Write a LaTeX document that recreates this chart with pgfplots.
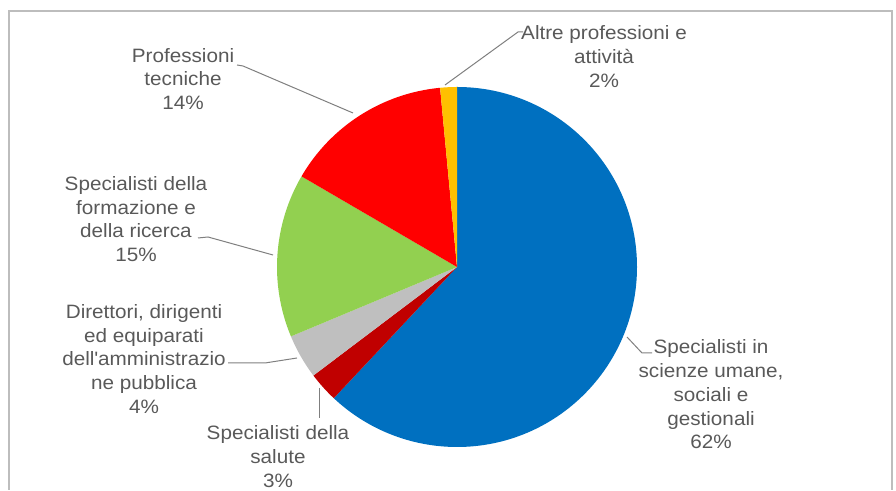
\documentclass[border=0pt]{standalone}
\usepackage{pgfplots}
\pgfplotsset{compat=1.18}
\usepackage{pgfplotstable}
\usepackage{fontspec}
\setmainfont{Liberation Sans}[FakeStretch=1.07]
\definecolor{cblue}{HTML}{0070C0}
\definecolor{cdred}{HTML}{C00000}
\definecolor{cgray}{HTML}{BFBFBF}
\definecolor{cgreen}{HTML}{92D050}
\definecolor{cred}{HTML}{FF0000}
\definecolor{corange}{HTML}{FFC000}
\definecolor{ctext}{HTML}{595959}
\definecolor{cline}{HTML}{7F7F7F}
\definecolor{cborder}{HTML}{BDBDBD}
\tikzset{lab/.style={text=ctext, align=center, inner sep=0pt, font=\fontsize{14.5}{17.8}\selectfont}}
\pgfplotstableread{
value color
62.0 cblue
2.7 cdred
4.0 cgray
14.7 cgreen
15.1 cred
1.5 corange
}\piedata
\begin{document}
\begin{tikzpicture}
\begin{axis}[x=0.75pt,y=0.75pt,xmin=0,xmax=896,ymin=0,ymax=490,hide axis,clip=false]
\path (axis cs:0,0) rectangle (axis cs:896,490);
\draw[cborder, line width=1.2pt] (axis cs:9,0) -- (axis cs:9,479) -- (axis cs:892,479) -- (axis cs:892,0);
\pgfplotstablegetrowsof{\piedata}
\pgfmathtruncatemacro\nrows{\pgfplotsretval-1}
\def\curang{90}
\pgfplotsforeachungrouped \i in {0,...,\nrows}{
  \pgfplotstablegetelem{\i}{value}\of\piedata \let\val\pgfplotsretval
  \pgfplotstablegetelem{\i}{color}\of\piedata \let\col\pgfplotsretval
  \pgfmathsetmacro\endang{\curang-3.6*\val}
  \edef\temp{\noexpand\fill[\col] (axis cs:457,223) -- ++(\curang:135pt) arc[start angle=\curang, end angle=\endang, radius=135pt] -- cycle;}
  \temp
  \global\let\curang\endang
}
\addplot[cline, line width=0.75pt, no markers] coordinates {(445,405) (518,458) (523,458)};
\addplot[cline, line width=0.75pt, no markers] coordinates {(237,425) (243,424) (353,377)};
\addplot[cline, line width=0.75pt, no markers] coordinates {(198,252) (208,253) (273,235)};
\addplot[cline, line width=0.75pt, no markers] coordinates {(228,127) (265,127) (297,132)};
\addplot[cline, line width=0.75pt, no markers] coordinates {(319,102) (319,72)};
\addplot[cline, line width=0.75pt, no markers] coordinates {(627,153) (642,137) (652,137)};
\node[lab] at (axis cs:604,433.5) {Altre professioni e\\attività\\2\%};
\node[lab] at (axis cs:183,411) {Professioni\\tecniche\\14\%};
\node[lab] at (axis cs:136,271) {Specialisti della\\formazione e\\della ricerca\\15\%};
\node[lab] at (axis cs:144,131) {Direttori, dirigenti\\ed equiparati\\dell\textquotesingle amministrazio\\ne pubblica\\4\%};
\node[lab] at (axis cs:278,33.5) {Specialisti della\\salute\\3\%};
\node[lab] at (axis cs:711,95.5) {Specialisti in\\scienze umane,\\sociali e\\gestionali\\62\%};
\end{axis}
\end{tikzpicture}
\end{document}
